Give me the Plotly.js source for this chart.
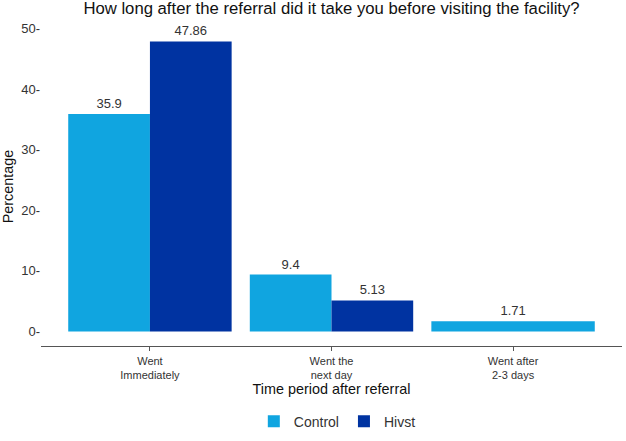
<!DOCTYPE html>
<html>
<head>
<meta charset="utf-8">
<script src="https://cdn.plot.ly/plotly-3.0.1.min.js"></script>
<style>html,body{margin:0;padding:0;background:#fff}#chart{width:626px;height:441px}</style>
</head>
<body>
<div id="chart"></div>
<script>
const categories = ["Went<br>Immediately", "Went the<br>next day", "Went after<br>2-3 days"];
const controlValues = [35.9, 9.4, 1.71];
const hivstValues = [47.86, 5.13];
const controlLabels = ["35.9", "9.4", "1.71"];
const hivstLabels = ["47.86", "5.13"];
const yTicks = [0, 10, 20, 30, 40, 50];

const font = "Liberation Sans, Arial, Helvetica, sans-serif";

const traces = [
  {
    type: "bar", name: "Control",
    x: categories, y: controlValues,
    text: controlLabels, textposition: "outside", cliponaxis: false,
    textfont: {family: font, size: 13, color: "#333333"},
    marker: {color: "#10A5E0", line: {width: 0}},
    width: [0.45, 0.45, 0.9], offset: [-0.45, -0.45, -0.45],
    hoverinfo: "none"
  },
  {
    type: "bar", name: "Hivst",
    x: categories.slice(0, 2), y: hivstValues,
    text: hivstLabels, textposition: "outside", cliponaxis: false,
    textfont: {family: font, size: 13, color: "#333333"},
    marker: {color: "#0033A1", line: {width: 0}},
    width: [0.45, 0.45], offset: [0, 0],
    hoverinfo: "none"
  }
];

const layout = {
  width: 626, height: 441,
  margin: {l: 41, r: 4, t: 27, b: 95, autoexpand: false},
  paper_bgcolor: "#ffffff", plot_bgcolor: "#ffffff",
  barmode: "overlay",
  font: {family: font, color: "#333333"},
  title: {
    text: "How long after the referral did it take you before visiting the facility?",
    font: {family: font, size: 16.7, color: "#111111"},
    xref: "paper", x: 0.5, xanchor: "center",
    yref: "container", y: 0.981, yanchor: "middle"
  },
  xaxis: {
    type: "category",
    categoryorder: "array", categoryarray: categories,
    range: [-0.6, 2.6],
    automargin: false,
    showline: true, linecolor: "#555555", linewidth: 1.3,
    ticks: "outside", ticklen: 4, tickcolor: "#555555",
    tickfont: {family: font, size: 11, color: "#333333"},
    showgrid: false, zeroline: false,
    title: {text: "Time period after referral", font: {family: font, size: 14.4, color: "#111111"}, standoff: 0}
  },
  yaxis: {
    range: [-2.39, 50.25],
    automargin: false,
    tickvals: yTicks,
    ticktext: yTicks.map(v => v + "-"),
    ticks: "", showline: false, showgrid: false, zeroline: false,
    tickfont: {family: font, size: 13, color: "#333333"},
    title: {text: "Percentage", font: {family: font, size: 14.4, color: "#111111"}, standoff: 4}
  },
  showlegend: true,
  legend: {
    orientation: "h", xref: "paper", x: 0.51, xanchor: "center",
    yref: "container", y: 0.044, yanchor: "middle",
    font: {family: font, size: 14, color: "#333333"},
    itemsizing: "constant", tracegroupgap: 0
  }
};

Plotly.newPlot("chart", traces, layout, {displayModeBar: false, staticPlot: true});
</script>
</body>
</html>
